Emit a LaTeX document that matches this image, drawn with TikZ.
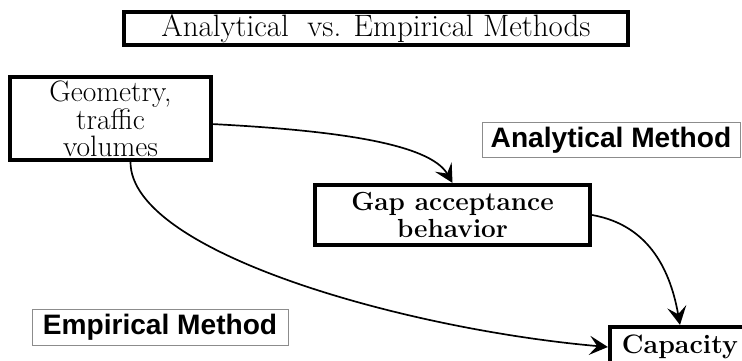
\documentclass[tikz,border=0pt]{standalone}
\usepackage{fontspec}
\newfontfamily\methodfont{Liberation Sans}
\usetikzlibrary{arrows.meta,positioning}

\begin{document}
\begin{tikzpicture}[auto,>={Stealth[length=4.6mm,width=4.8mm,inset=1.9mm]}]

      \tikzstyle{heavy}=[draw,line width=3pt,align=center,inner sep=2pt]
      \tikzstyle{light}=[draw=black!45,line width=0.6pt,align=center,font=\methodfont\bfseries\fontsize{20}{22}\selectfont]
      \tikzstyle{flow}=[line width=1.2pt,->]

      \useasboundingbox (0,0) rectangle (18.55,9);

      \node[heavy,minimum width=12.6cm,minimum height=0.825cm,font=\fontsize{22}{24}\selectfont] (T) at (9.4,8.2875) {Analytical\ \ vs. Empirical Methods};

      \node[heavy,minimum width=5.03cm,minimum height=2.075cm,font=\fontsize{21}{19}\selectfont] (G) at (2.7625,6.0375) {Geometry,\\traffic\\volumes};
      \node[light,minimum width=6.45cm,minimum height=0.75cm] (A) at (15.275,5.5) {Analytical Method};

      \node[heavy,minimum width=6.875cm,minimum height=1.5cm,font=\bfseries\fontsize{18.6}{19.5}\selectfont] (P) at (11.3125,3.625) {Gap acceptance\\behavior};

      \node[light,minimum width=6.4cm,minimum height=0.775cm] (E) at (4.0,0.8125) {Empirical Method};
      \node[heavy,minimum width=3.5cm,minimum height=1cm,font=\bfseries\fontsize{19}{21}\selectfont] (C) at (17.0,0.325) {Capacity};

      \draw[flow] ([yshift=-0.14cm]G.east) to[out=-3,in=120,out distance=3cm,in distance=1.15cm] (P.north);
      \draw[flow] ([xshift=0.5cm]G.south) to[out=-90,in=175,out distance=2.25cm,in distance=5.1cm] (C.west);
      \draw[flow] (P.east) to[out=-10,in=100,out distance=1.5cm,in distance=1.3cm] (C.north);
    \end{tikzpicture}
\end{document}
